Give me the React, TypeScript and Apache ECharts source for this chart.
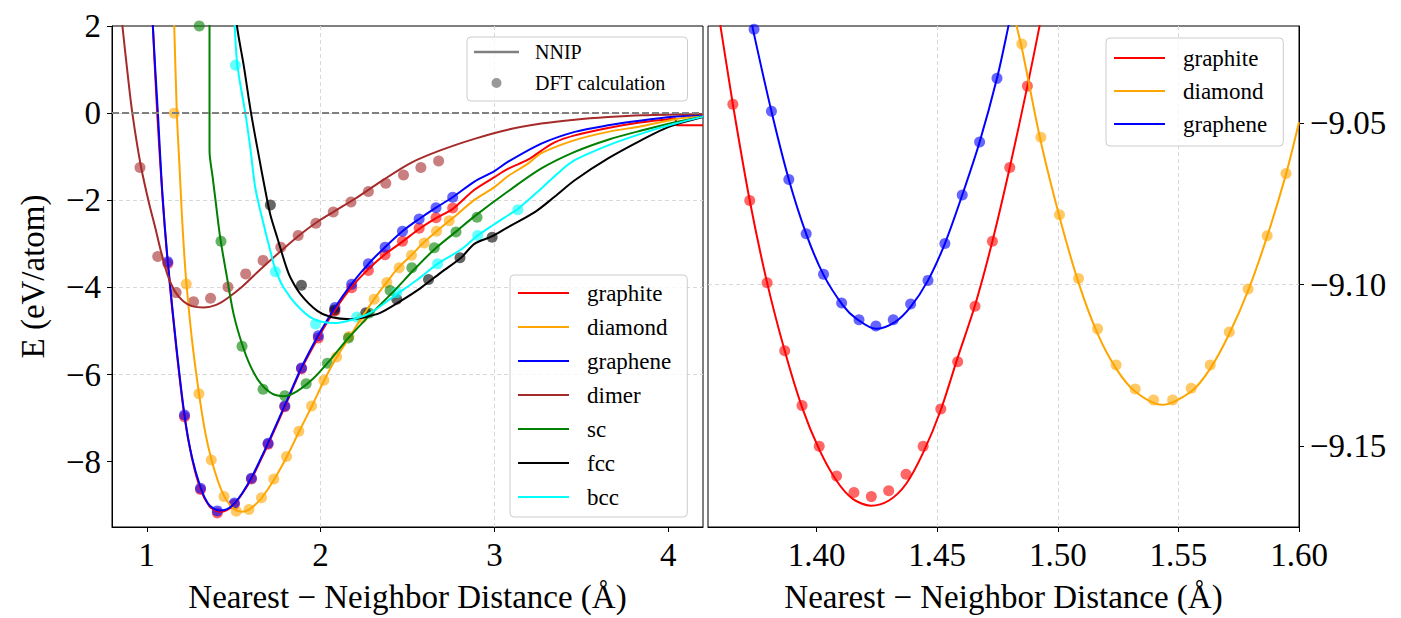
import React, { useEffect, useRef } from "react";
import * as echarts from "echarts";

const FONT = "'Liberation Serif', 'DejaVu Serif', serif";
const MINUS = "\u2212";
const XNAME = "Nearest " + MINUS + " Neighbor Distance (\u00c5)";

// ---------- left panel: DFT points ----------
const graphiteDftX = [1.121, 1.217, 1.309, 1.406, 1.504, 1.602, 1.698, 1.794, 1.89, 1.987, 2.083, 2.179, 2.275, 2.371, 2.471, 2.567, 2.664, 2.76];
const graphiteDftY = [-3.45, -6.97, -8.64, -9.18, -8.98, -8.4, -7.6, -6.74, -5.87, -5.16, -4.54, -4.01, -3.61, -3.25, -2.94, -2.64, -2.4, -2.18];
const grapheneDftX = [1.121, 1.217, 1.309, 1.406, 1.504, 1.602, 1.698, 1.794, 1.89, 1.987, 2.083, 2.179, 2.275, 2.371, 2.471, 2.567, 2.664, 2.76];
const grapheneDftY = [-3.41, -6.93, -8.61, -9.13, -8.95, -8.38, -7.58, -6.72, -5.85, -5.11, -4.46, -3.93, -3.46, -3.08, -2.71, -2.43, -2.17, -1.93];
const diamondDftX = [1.158, 1.227, 1.3, 1.371, 1.444, 1.515, 1.588, 1.66, 1.731, 1.804, 1.875, 1.948, 2.019, 2.092, 2.163, 2.236, 2.308, 2.381, 2.452, 2.523, 2.596, 2.667, 2.74];
const diamondDftY = [0.0, -3.92, -6.44, -7.96, -8.8, -9.14, -9.1, -8.83, -8.4, -7.88, -7.3, -6.72, -6.13, -5.6, -5.13, -4.7, -4.27, -3.89, -3.55, -3.26, -2.98, -2.71, -2.47];
const dimerDftX = [0.961, 1.063, 1.169, 1.269, 1.367, 1.467, 1.569, 1.669, 1.771, 1.871, 1.973, 2.073, 2.175, 2.275, 2.375, 2.477, 2.577, 2.679];
const dimerDftY = [-1.25, -3.29, -4.12, -4.33, -4.25, -3.99, -3.69, -3.38, -3.08, -2.81, -2.53, -2.27, -2.04, -1.8, -1.61, -1.42, -1.25, -1.1];
const scDftX = [1.302, 1.427, 1.548, 1.669, 1.794, 1.917, 2.039, 2.16, 2.279, 2.4, 2.525, 2.654, 2.779, 2.9];
const scDftY = [2.0, -2.94, -5.35, -6.34, -6.49, -6.21, -5.74, -5.16, -4.59, -4.07, -3.55, -3.09, -2.73, -2.39];
const fccDftX = [1.711, 1.89, 2.08, 2.26, 2.438, 2.621, 2.802, 2.987];
const fccDftY = [-2.11, -3.95, -4.52, -4.58, -4.27, -3.82, -3.32, -2.85];
const bccDftX = [1.51, 1.74, 1.971, 2.208, 2.438, 2.673, 2.904, 3.135];
const bccDftY = [1.1, -3.64, -4.84, -4.68, -4.12, -3.46, -2.81, -2.22];

// ---------- left panel: NNIP curves ----------
const graphiteLineX = [1.02, 1.035, 1.06, 1.09, 1.121, 1.17, 1.217, 1.26, 1.309, 1.36, 1.4, 1.433, 1.47, 1.504, 1.55, 1.602, 1.65, 1.698, 1.794, 1.89, 1.987, 2.083, 2.179, 2.275, 2.371, 2.471, 2.567, 2.664, 2.76, 2.885, 3.0, 3.077, 3.193, 3.27, 3.346, 3.462, 3.654, 3.846, 4.0, 4.04, 4.05, 4.2];
const graphiteLineY = [3.4, 2.0, 0.0, -1.9, -3.45, -5.4, -6.97, -7.92, -8.63, -9.02, -9.13, -9.15, -9.09, -8.98, -8.73, -8.4, -8.01, -7.6, -6.74, -5.87, -5.15, -4.52, -3.99, -3.58, -3.24, -2.95, -2.66, -2.41, -2.2, -1.76, -1.47, -1.28, -1.07, -0.86, -0.67, -0.51, -0.34, -0.21, -0.14, -0.12, -0.28, -0.28];
const diamondLineX = [1.15, 1.158, 1.173, 1.188, 1.202, 1.215, 1.228, 1.26, 1.3, 1.335, 1.371, 1.41, 1.444, 1.48, 1.515, 1.548, 1.588, 1.62, 1.66, 1.731, 1.804, 1.875, 1.948, 2.019, 2.087, 2.173, 2.236, 2.308, 2.381, 2.443, 2.523, 2.596, 2.692, 2.76, 2.885, 3.0, 3.077, 3.193, 3.27, 3.462, 3.654, 3.846, 4.04, 4.2];
const diamondLineY = [3.0, 2.0, 0.0, -1.2, -2.33, -3.2, -3.9, -5.2, -6.42, -7.3, -7.94, -8.45, -8.78, -9.0, -9.12, -9.15, -9.1, -9.0, -8.84, -8.42, -7.9, -7.32, -6.74, -6.15, -5.64, -5.1, -4.7, -4.27, -3.88, -3.57, -3.26, -2.96, -2.63, -2.41, -1.99, -1.7, -1.45, -1.16, -0.92, -0.62, -0.43, -0.3, -0.14, -0.05];
const grapheneLineX = [1.025, 1.035, 1.064, 1.09, 1.121, 1.17, 1.217, 1.26, 1.31, 1.35, 1.385, 1.42, 1.446, 1.475, 1.504, 1.55, 1.602, 1.65, 1.698, 1.794, 1.89, 1.987, 2.083, 2.179, 2.275, 2.375, 2.471, 2.567, 2.664, 2.76, 2.885, 3.0, 3.077, 3.27, 3.462, 3.654, 3.846, 4.04, 4.2];
const grapheneLineY = [3.2, 2.0, 0.0, -1.85, -3.41, -5.35, -6.93, -7.9, -8.6, -8.95, -9.08, -9.12, -9.11, -9.06, -8.96, -8.72, -8.37, -7.98, -7.57, -6.71, -5.84, -5.1, -4.46, -3.92, -3.46, -3.06, -2.71, -2.43, -2.17, -1.93, -1.57, -1.33, -1.12, -0.7, -0.43, -0.28, -0.17, -0.08, -0.03];
const dimerLineX = [0.83, 0.86, 0.89, 0.917, 0.963, 1.009, 1.05, 1.077, 1.12, 1.16, 1.21, 1.26, 1.327, 1.4, 1.46, 1.55, 1.65, 1.77, 1.885, 1.98, 2.077, 2.2, 2.35, 2.52, 2.692, 2.885, 3.077, 3.27, 3.462, 3.654, 3.85, 4.2];
const dimerLineY = [3.3, 2.0, 0.9, 0.0, -1.15, -2.0, -2.65, -3.1, -3.72, -4.08, -4.32, -4.43, -4.46, -4.4, -4.26, -3.98, -3.6, -3.17, -2.78, -2.5, -2.26, -1.96, -1.56, -1.14, -0.85, -0.59, -0.38, -0.24, -0.15, -0.09, -0.05, -0.02];
const scLineX = [1.361, 1.361, 1.38, 1.394, 1.423, 1.462, 1.5, 1.548, 1.596, 1.654, 1.721, 1.79, 1.866, 1.961, 2.039, 2.163, 2.288, 2.423, 2.538, 2.654, 2.779, 2.885, 3.077, 3.27, 3.462, 3.654, 3.846, 4.04, 4.2];
const scLineY = [3.0, -0.85, -1.5, -1.95, -2.87, -3.78, -4.62, -5.3, -5.8, -6.2, -6.44, -6.5, -6.38, -6.08, -5.74, -5.15, -4.62, -4.08, -3.59, -3.13, -2.72, -2.37, -1.8, -1.27, -0.89, -0.61, -0.4, -0.21, -0.08];
const fccLineX = [1.51, 1.519, 1.558, 1.6, 1.644, 1.683, 1.711, 1.75, 1.8, 1.827, 1.885, 1.981, 2.058, 2.173, 2.25, 2.346, 2.462, 2.577, 2.692, 2.808, 2.885, 2.985, 3.077, 3.23, 3.346, 3.462, 3.654, 3.846, 4.0, 4.2];
const fccLineY = [2.6, 2.0, 1.09, 0.0, -0.97, -1.8, -2.33, -2.85, -3.5, -3.78, -4.16, -4.54, -4.68, -4.73, -4.69, -4.58, -4.31, -4.01, -3.66, -3.32, -3.0, -2.83, -2.62, -2.28, -1.92, -1.54, -1.04, -0.62, -0.32, -0.09];
const bccLineX = [1.5, 1.506, 1.521, 1.567, 1.596, 1.625, 1.673, 1.721, 1.74, 1.788, 1.866, 1.961, 2.077, 2.192, 2.288, 2.423, 2.558, 2.673, 2.808, 2.904, 3.0, 3.077, 3.135, 3.173, 3.27, 3.385, 3.462, 3.654, 3.846, 4.04, 4.2];
const bccLineY = [2.6, 2.0, 1.1, 0.0, -0.81, -1.73, -2.56, -3.32, -3.59, -4.01, -4.42, -4.73, -4.82, -4.73, -4.58, -4.2, -3.82, -3.46, -3.13, -2.81, -2.55, -2.35, -2.2, -2.07, -1.73, -1.31, -1.08, -0.74, -0.47, -0.24, -0.08];

// ---------- right panel (zoom near minima) ----------
const graphiteZoomDftX = [1.3653, 1.3723, 1.3795, 1.3868, 1.394, 1.4011, 1.4083, 1.4155, 1.4227, 1.4299, 1.4371, 1.4442, 1.4515, 1.4585, 1.4657, 1.4729, 1.4801, 1.4874];
const graphiteZoomDftY = [-9.0442, -9.074, -9.0994, -9.1205, -9.1374, -9.15, -9.1592, -9.1643, -9.1656, -9.1638, -9.1587, -9.15, -9.1385, -9.1239, -9.1067, -9.0866, -9.0638, -9.0386];
const graphiteZoomLineX = [1.357, 1.3602, 1.3653, 1.3723, 1.3795, 1.3868, 1.394, 1.4011, 1.4083, 1.415, 1.4225, 1.43, 1.4371, 1.4442, 1.4515, 1.4585, 1.4657, 1.4729, 1.4801, 1.4874, 1.4924, 1.495];
const graphiteZoomLineY = [-9.006, -9.0202, -9.0442, -9.074, -9.0994, -9.1205, -9.138, -9.151, -9.1607, -9.1663, -9.1684, -9.1668, -9.1617, -9.152, -9.1388, -9.1226, -9.1064, -9.0866, -9.0638, -9.0386, -9.0202, -9.01];
const grapheneZoomDftX = [1.3741, 1.3813, 1.3885, 1.3957, 1.4029, 1.4104, 1.4176, 1.4246, 1.4318, 1.439, 1.4462, 1.4532, 1.4604, 1.4676, 1.4748];
const grapheneZoomDftY = [-9.021, -9.0464, -9.0675, -9.0843, -9.0968, -9.1057, -9.1109, -9.1128, -9.1109, -9.106, -9.0987, -9.0873, -9.0723, -9.0559, -9.0362];
const grapheneZoomLineX = [1.371, 1.3734, 1.3813, 1.3885, 1.3957, 1.4029, 1.411, 1.4166, 1.4246, 1.4325, 1.439, 1.4462, 1.4532, 1.4604, 1.4676, 1.4748, 1.4795, 1.482];
const grapheneZoomLineY = [-9.011, -9.0202, -9.0464, -9.0675, -9.0843, -9.097, -9.1065, -9.1106, -9.1137, -9.1116, -9.1069, -9.0987, -9.0873, -9.0723, -9.0559, -9.0362, -9.0202, -9.011];
const diamondZoomDftX = [1.4851, 1.493, 1.5007, 1.5086, 1.5165, 1.5242, 1.5321, 1.5397, 1.5476, 1.5553, 1.5632, 1.5711, 1.5789, 1.5868, 1.5946];
const diamondZoomDftY = [-9.0256, -9.0544, -9.0784, -9.0981, -9.1137, -9.1249, -9.1323, -9.1357, -9.1357, -9.1321, -9.1249, -9.1147, -9.1014, -9.0849, -9.0656];
const diamondZoomLineX = [1.481, 1.483, 1.4851, 1.493, 1.5007, 1.5086, 1.5165, 1.5242, 1.5321, 1.5432, 1.5553, 1.5632, 1.5711, 1.5789, 1.5868, 1.5946, 1.6];
const diamondZoomLineY = [-9.013, -9.0202, -9.0268, -9.0559, -9.079, -9.0994, -9.1152, -9.126, -9.1331, -9.1372, -9.1331, -9.126, -9.1152, -9.1019, -9.0851, -9.0659, -9.0498];

// ---------- axis ticks ----------
const leftXTicks = [1, 2, 3, 4];
const leftYTicks = [-8, -6, -4, -2, 0, 2];
const rightXTicks = [1.4, 1.45, 1.5, 1.55, 1.6];
const rightYTicks = [-9.15, -9.1, -9.05];

const COLORS: Record<string, string> = {
  graphite: "#ff0000",
  diamond: "#ffa500",
  graphene: "#0000ff",
  dimer: "#a52a2a",
  sc: "#008000",
  fcc: "#000000",
  bcc: "#00ffff",
};

const zip = (xs: number[], ys: number[]) => xs.map((x, i) => [x, ys[i]]);
const fmtInt = (v: number) => (v < 0 ? MINUS + Math.abs(v) : String(v));
const fmt2 = (v: number) => (v < 0 ? MINUS + Math.abs(v).toFixed(2) : v.toFixed(2));

const LINE_ICON = "path://M0,0H51V2.2H0Z M63.99,0H64V2.2H63.99Z";
const NNIP_ICON = "path://M0,3.7H45V6.3H0Z M0,0H0.01V0.01H0Z M55.99,9.99H56V10H55.99Z";
const DFT_ICON = "path://M17.5,5A5,5 0 1 1 27.5,5A5,5 0 1 1 17.5,5Z M0,0H0.01V0.01H0Z M55.99,9.99H56V10H55.99Z";

function lineSeries(name: string, xs: number[], ys: number[], idx: number, extra: any = {}) {
  const color = COLORS[name];
  return {
    type: "line",
    name,
    xAxisIndex: idx,
    yAxisIndex: idx,
    data: zip(xs, ys),
    showSymbol: false,
    symbol: "none",
    smooth: 0.3,
    clip: true,
    silent: true,
    lineStyle: { color, width: 2 },
    itemStyle: { color },
    ...extra,
  };
}

function dotSeries(name: string, xs: number[], ys: number[], idx: number) {
  const color = COLORS[name];
  return {
    type: "scatter",
    name: name + " DFT",
    xAxisIndex: idx,
    yAxisIndex: idx,
    data: zip(xs, ys),
    symbol: "circle",
    symbolSize: 11,
    clip: true,
    silent: true,
    itemStyle: { color, opacity: 0.6 },
  };
}

function axisCommon() {
  return {
    type: "value",
    axisLine: { show: true, onZero: false, lineStyle: { color: "#000", width: 1 } },
    axisLabel: { fontFamily: FONT, fontSize: 33, color: "#000", margin: 11 },
    splitLine: {
      show: true,
      showMinLine: false,
      showMaxLine: false,
      lineStyle: { color: "#d8d8d8", width: 1, type: [4, 3] },
    },
    nameTextStyle: { fontFamily: FONT, fontSize: 33, color: "#000" },
  };
}

const legendBox = {
  orient: "vertical",
  selectedMode: false,
  backgroundColor: "rgba(255,255,255,0.8)",
  borderColor: "#cccccc",
  borderWidth: 1,
  borderRadius: 4,
  itemStyle: { borderWidth: 0 },
};

export default function App() {
  const ref = useRef<HTMLDivElement>(null);
  useEffect(() => {
    if (!ref.current) return;
    const chart = echarts.init(ref.current, null, { renderer: "svg" });
    const ax = axisCommon;
    const option: any = {
      animation: false,
      grid: [
        { left: 112, top: 26, width: 591, height: 505, show: true, borderColor: "#000", borderWidth: 1, backgroundColor: "transparent" },
        { left: 708, top: 26, width: 591, height: 505, show: true, borderColor: "#000", borderWidth: 1, backgroundColor: "transparent" },
      ],
      xAxis: [
        {
          ...ax(),
          gridIndex: 0,
          min: 0.8,
          max: 4.2,
          splitNumber: 3,
          axisTick: { show: true, length: 5, lineStyle: { color: "#000" }, customValues: leftXTicks },
          axisLabel: { ...ax().axisLabel, showMinLabel: false, showMaxLabel: false, formatter: (v: number) => fmtInt(v) },
          name: XNAME,
          nameLocation: "middle",
          nameGap: 53,
        },
        {
          ...ax(),
          gridIndex: 1,
          min: 1.355,
          max: 1.6,
          splitNumber: 5,
          axisTick: { show: true, length: 5, lineStyle: { color: "#000" }, customValues: rightXTicks },
          axisLabel: { ...ax().axisLabel, showMinLabel: false, formatter: (v: number) => fmt2(v) },
          name: XNAME,
          nameLocation: "middle",
          nameGap: 53,
        },
      ],
      yAxis: [
        {
          ...ax(),
          gridIndex: 0,
          min: -9.5,
          max: 2,
          splitNumber: 6,
          axisTick: { show: true, length: 5, lineStyle: { color: "#000" }, customValues: leftYTicks },
          axisLabel: { ...ax().axisLabel, showMinLabel: false, formatter: (v: number) => fmtInt(v) },
          name: "E (eV/atom)",
          nameLocation: "middle",
          nameGap: 63,
        },
        {
          ...ax(),
          gridIndex: 1,
          position: "right",
          min: -9.175,
          max: -9.02,
          splitNumber: 3,
          axisTick: { show: true, length: 5, lineStyle: { color: "#000" }, customValues: rightYTicks },
          axisLabel: { ...ax().axisLabel, showMinLabel: false, showMaxLabel: false, formatter: (v: number) => fmt2(v) },
        },
      ],
      legend: [
        {
          ...legendBox,
          data: ["graphite", "diamond", "graphene", "dimer", "sc", "fcc", "bcc"],
          left: 510,
          top: 275,
          icon: LINE_ICON,
          itemWidth: 64,
          itemHeight: 2.2,
          itemGap: 10,
          padding: [6, 16, 8, 8],
          textStyle: { fontFamily: FONT, fontSize: 23, color: "#000", lineHeight: 24 },
        },
        {
          ...legendBox,
          data: [
            { name: "NNIP", icon: NNIP_ICON },
            { name: "DFT calculation", icon: DFT_ICON },
          ],
          left: 467,
          top: 37,
          itemWidth: 56,
          itemHeight: 10,
          itemGap: 11,
          padding: [5, 22, 8, 7],
          textStyle: { fontFamily: FONT, fontSize: 20, color: "#000", lineHeight: 20 },
        },
        {
          ...legendBox,
          data: ["graphite", "diamond", "graphene"],
          left: 1106,
          top: 38,
          icon: LINE_ICON,
          itemWidth: 64,
          itemHeight: 2.2,
          itemGap: 9,
          padding: [8, 16, 10, 8],
          textStyle: { fontFamily: FONT, fontSize: 23, color: "#000", lineHeight: 24 },
        },
      ],
      series: [
        { type: "line", name: "NNIP", xAxisIndex: 0, yAxisIndex: 0, data: [], symbol: "none", lineStyle: { color: "#808080", width: 2 }, itemStyle: { color: "#808080" } },
        { type: "scatter", name: "DFT calculation", xAxisIndex: 0, yAxisIndex: 0, data: [], itemStyle: { color: "#808080" } },
        lineSeries("graphite", graphiteLineX, graphiteLineY, 0),
        dotSeries("graphite", graphiteDftX, graphiteDftY, 0),
        lineSeries("diamond", diamondLineX, diamondLineY, 0),
        dotSeries("diamond", diamondDftX, diamondDftY, 0),
        lineSeries("graphene", grapheneLineX, grapheneLineY, 0),
        dotSeries("graphene", grapheneDftX, grapheneDftY, 0),
        lineSeries("dimer", dimerLineX, dimerLineY, 0, {
          markLine: {
            silent: true,
            symbol: ["none", "none"],
            label: { show: false },
            lineStyle: { color: "#808080", width: 2, type: [7, 3] },
            data: [{ yAxis: 0 }],
          },
        }),
        dotSeries("dimer", dimerDftX, dimerDftY, 0),
        lineSeries("sc", scLineX, scLineY, 0),
        dotSeries("sc", scDftX, scDftY, 0),
        lineSeries("fcc", fccLineX, fccLineY, 0),
        dotSeries("fcc", fccDftX, fccDftY, 0),
        lineSeries("bcc", bccLineX, bccLineY, 0),
        dotSeries("bcc", bccDftX, bccDftY, 0),
        lineSeries("graphite", graphiteZoomLineX, graphiteZoomLineY, 1),
        dotSeries("graphite", graphiteZoomDftX, graphiteZoomDftY, 1),
        lineSeries("diamond", diamondZoomLineX, diamondZoomLineY, 1),
        dotSeries("diamond", diamondZoomDftX, diamondZoomDftY, 1),
        lineSeries("graphene", grapheneZoomLineX, grapheneZoomLineY, 1),
        dotSeries("graphene", grapheneZoomDftX, grapheneZoomDftY, 1),
      ],
    };
    chart.setOption(option);
    return () => chart.dispose();
  }, []);
  return <div ref={ref} style={{ position: "absolute", left: 0, top: 0, width: 1401, height: 618 }} />;
}
